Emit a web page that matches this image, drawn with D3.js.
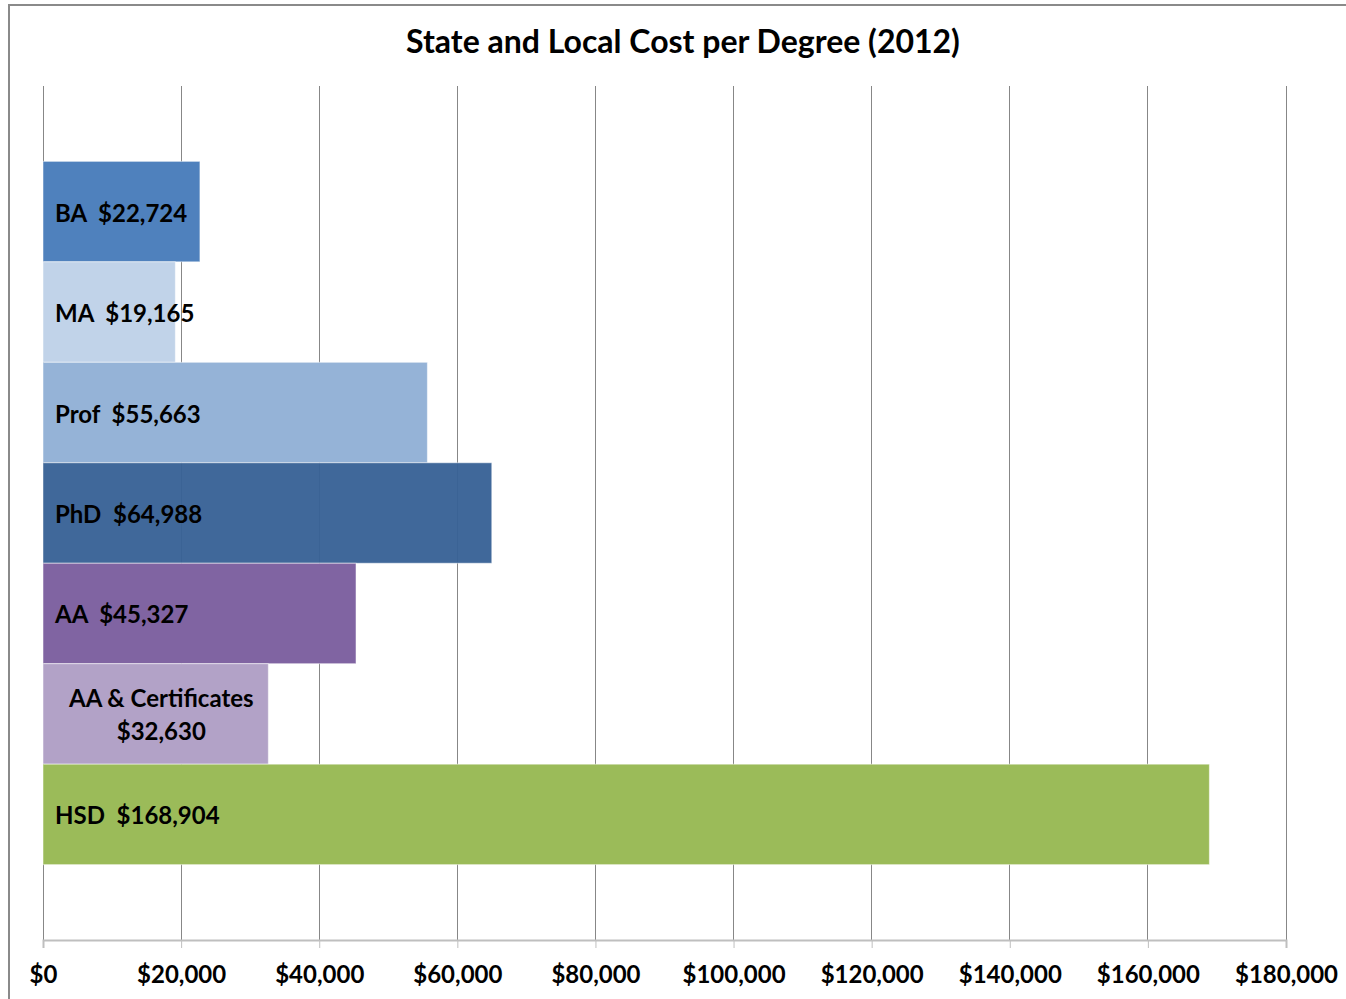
<!DOCTYPE html>
<html>
<head>
<meta charset="utf-8">
<script src="https://cdn.jsdelivr.net/npm/d3@7"></script>
<style>
  html, body { margin: 0; padding: 0; background: #fff; }
  svg { display: block; }
  text { font-family: Lato, "Open Sans", sans-serif; font-weight: bold; fill: #000; white-space: pre; }
</style>
</head>
<body>
<svg id="chart" width="1346" height="999"></svg>
<script>
// Degree types, top to bottom
const categories = ["BA", "MA", "Prof", "PhD", "AA", "AA & Certificates", "HSD"];
// State and local cost per degree, 2012 (USD)
const costs = [22724, 19165, 55663, 64988, 45327, 32630, 168904];
// Bar label lines, one array of lines per bar
const labelLines = [
  ["BA  $22,724"],
  ["MA  $19,165"],
  ["Prof  $55,663"],
  ["PhD  $64,988"],
  ["AA  $45,327"],
  ["AA & Certificates", "$32,630"],
  ["HSD  $168,904"]
];
// Axis ticks
const tickValues = [0, 20000, 40000, 60000, 80000, 100000, 120000, 140000, 160000, 180000];
const tickLabels = ["$0", "$20,000", "$40,000", "$60,000", "$80,000", "$100,000", "$120,000", "$140,000", "$160,000", "$180,000"];
const title = "State and Local Cost per Degree (2012)";

const colors = ["#4F81BD", "#C1D3E9", "#95B3D7", "#386296", "#8064A2", "#B2A2C7", "#9BBB59"];
const opacities = [1, 1, 1, 0.96, 1, 1, 1];

const svg = d3.select("#chart");
const W = 1346, H = 999;
const plot = { left: 43, right: 1286, top: 86, bottom: 940 };

// outer chart frame (continues past the window edges)
svg.append("rect")
  .attr("x", 9).attr("y", 5)
  .attr("width", W + 20).attr("height", H + 20)
  .attr("fill", "#fff")
  .attr("stroke", "#8a8a8a").attr("stroke-width", 2);

// title
svg.append("text")
  .attr("x", 683).attr("y", 53)
  .attr("text-anchor", "middle")
  .style("font-size", "32px")
  .text(title);

const x = d3.scaleLinear().domain([0, 180000]).range([plot.left, plot.right]);
const y = d3.scaleBand().domain(categories).range([plot.top, plot.bottom])
  .paddingInner(0).paddingOuter(0.75);

// vertical gridlines
svg.append("g").selectAll("line")
  .data(tickValues)
  .join("line")
  .attr("x1", d => x(d)).attr("x2", d => x(d))
  .attr("y1", plot.top).attr("y2", plot.bottom)
  .attr("stroke", "#878787").attr("stroke-width", 1)
  .attr("shape-rendering", "crispEdges");

// bars
svg.append("g").selectAll("rect")
  .data(categories)
  .join("rect")
  .attr("x", x(0))
  .attr("y", d => y(d))
  .attr("width", (d, i) => x(costs[i]) - x(0))
  .attr("height", y.bandwidth())
  .attr("fill", (d, i) => colors[i])
  .attr("fill-opacity", (d, i) => opacities[i])
  .attr("stroke", "#ffffff").attr("stroke-opacity", 0.5).attr("stroke-width", 1);

// x axis
const axis = d3.axisBottom(x)
  .tickValues(tickValues)
  .tickFormat((d, i) => tickLabels[i])
  .tickSize(8)
  .tickPadding(18);
const gx = svg.append("g")
  .attr("transform", `translate(0,${plot.bottom})`)
  .call(axis);
gx.select(".domain").attr("stroke", "#bfbfbf").attr("stroke-width", 2);
gx.selectAll(".tick line").attr("stroke", "#bfbfbf").attr("stroke-width", 1);
gx.selectAll(".tick text")
  .attr("fill", "#000")
  .style("font-family", "Lato, 'Open Sans', sans-serif")
  .style("font-weight", "bold")
  .style("font-size", "24px");

// bar labels, at the inside base of each bar
const labels = svg.append("g").selectAll("g")
  .data(categories)
  .join("g");
labels.each(function (d, i) {
  const g = d3.select(this);
  const lines = labelLines[i];
  const cy = y(d) + y.bandwidth() / 2;
  if (lines.length === 1) {
    g.append("text")
      .attr("x", x(0) + 12)
      .attr("y", cy + 10)
      .style("font-size", "24px")
      .text(lines[0]);
  } else {
    const texts = lines.map((t, k) =>
      g.append("text")
        .attr("y", cy - 7 + k * 33)
        .attr("text-anchor", "middle")
        .style("font-size", "24px")
        .text(t));
    const widest = d3.max(texts, t => t.node().getComputedTextLength());
    texts.forEach(t => t.attr("x", x(0) + 26 + widest / 2));
  }
});
</script>
</body>
</html>
